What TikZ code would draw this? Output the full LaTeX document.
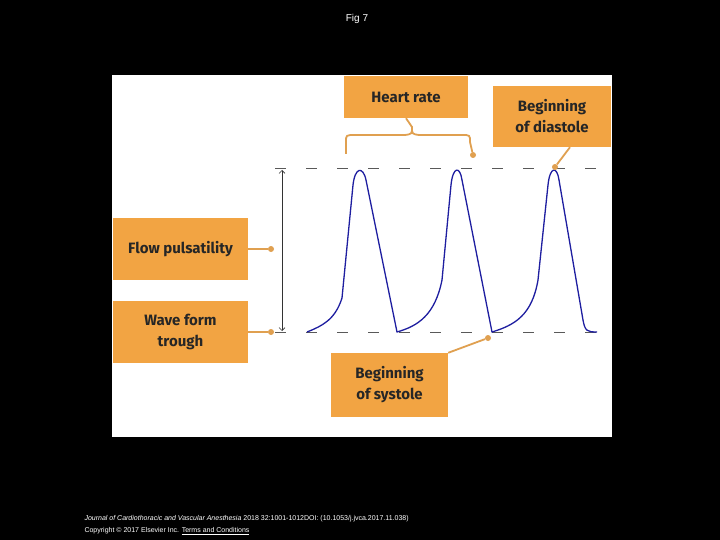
\documentclass[tikz,border=0pt]{standalone}
\usepackage{fontspec}
\usetikzlibrary{arrows.meta}
\setmainfont{Liberation Sans}
\newfontfamily\boxfont{Fira Sans}
\begin{document}
\begin{tikzpicture}[x=1pt,y=-1pt,
  lab/.style={fill=orng,inner sep=0pt,font=\boxfont\bfseries\fontsize{15}{21}\selectfont,text=black!85,align=center},
  conn/.style={draw=connc,line width=1.8pt},
  dot/.style={circle,fill=connc,inner sep=0pt,minimum size=6pt}]
\definecolor{orng}{HTML}{F2A443}
\definecolor{connc}{HTML}{E0A050}
\definecolor{wave}{HTML}{1E1EA0}
\fill[black] (0,0) rectangle (720,540);
\useasboundingbox (0,0) rectangle (720,540);
\fill[white] (112,75) rectangle (612,437);
\node[text=white,font=\fontsize{10}{12}\selectfont] (title) at (357,19) {Fig 7};
% boxes
\node[lab,minimum width=124pt,minimum height=42pt] (hr) at (406,97) {Heart rate};
\node[lab,minimum width=118pt,minimum height=61pt] (dia) at (552,116.5) {Beginning\\of diastole};
\node[lab,minimum width=135pt,minimum height=62pt] (fp) at (180.5,249) {Flow pulsatility};
\node[lab,minimum width=135pt,minimum height=62pt] (wt) at (180.5,332) {Wave form\\trough};
\node[lab,minimum width=117pt,minimum height=64pt] (sys) at (389.5,385) {Beginning\\of systole};
% dashed lines
\draw[gray!70!black,line width=1pt,dash pattern=on 11pt off 20pt] (275,169) -- (600,169);
\draw[gray!70!black,line width=1pt,dash pattern=on 11pt off 20pt] (275,332) -- (600,332);
% double arrow
\coordinate (at) at (282,170);
\coordinate (ab) at (282,331);
\draw[black!80,line width=0.6pt,{Straight Barb[length=3pt,width=6pt]}-{Straight Barb[length=3pt,width=6pt]}] (at) -- (ab);
% waveform
\draw[wave,line width=1.3pt,line join=round]
 (307,332) .. controls (322,326) and (335,320) .. (342,298)
 -- (353,185) .. controls (355,167) and (363,166) .. (366,180)
 -- (397,332)
 .. controls (418,326) and (435,315) .. (442,280)
 -- (451,185) .. controls (453,166) and (460,166) .. (462,180)
 -- (492,332)
 .. controls (515,325) and (532,315) .. (538,280)
 -- (548,185) .. controls (550,166) and (557,166) .. (559,180)
 -- (583,320) .. controls (585,331) and (587,332) .. (597,332);
% connectors
\node[dot] (d1) at (271,249) {};
\node[dot] (d2) at (271,332) {};
\node[dot] (d3) at (473,155) {};
\node[dot] (d4) at (488,338) {};
\node[dot] (d5) at (555,167) {};
\draw[conn] (fp.east) -- (d1);
\draw[conn] (wt.east) -- (d2);
\draw[conn] (hr.south) -- (412,127) .. controls (412,134) .. (405,135) -- (355,135) .. controls (346,135) .. (346,142) -- (346,154);
\draw[conn] (412,127) .. controls (412,134) .. (419,135) -- (462,135) .. controls (470,135) .. (470,142) -- (d3);
\draw[conn] (sys.north east) -- (d4);
\draw[conn] ([xshift=18pt]dia.south) -- (d5);
% footer
\node[text=white,anchor=west,font=\fontsize{7}{8}\selectfont] (ft1) at (81,519) {\textit{Journal of Cardiothoracic and Vascular Anesthesia} 2018 32:1001-1012DOI: (10.1053/j.jvca.2017.11.038)};
\node[text=white,anchor=west,font=\fontsize{7}{8}\selectfont] (ft2) at (81,531) {Copyright © 2017 Elsevier Inc. \underline{Terms and Conditions}};
\end{tikzpicture}
\end{document}
